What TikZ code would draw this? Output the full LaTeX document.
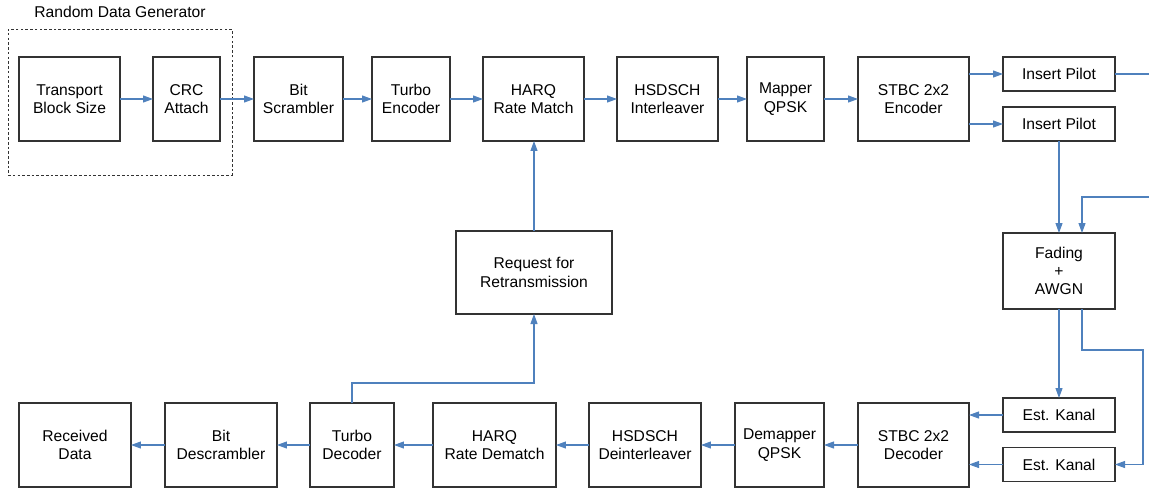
\documentclass[tikz,border=0pt]{standalone}
\usepackage{fontspec}
\setmainfont{Liberation Sans}
\usetikzlibrary{arrows.meta}
\definecolor{linkblue}{HTML}{4F81BD}
\tikzset{
  blok/.style={draw=black!80, line width=0.6pt, align=center, inner sep=0pt, outer sep=0pt,
    font=\fontsize{8.9}{10.4}\selectfont},
  toprow/.style={blok, minimum height=1.68cm},
  pilot/.style={blok, minimum width=2.24cm, minimum height=0.68cm},
  arr/.style={draw=linkblue, line width=0.6pt, -{Triangle[length=0.2cm, width=0.14cm]}},
  conn/.style={draw=linkblue, line width=0.6pt},
  gen/.style={draw=black!80, line width=0.5pt, dash pattern=on 1.5pt off 1.2pt, inner sep=0pt}
}
\begin{document}
\begin{tikzpicture}[x=0.02cm, y=-0.02cm]
  \useasboundingbox (0,0) rectangle (1149,488);

  % generator group
  \node[gen, minimum width=4.48cm, minimum height=2.92cm] (rdg) at (120,102) {};
  \node[font=\fontsize{8.9}{10.4}\selectfont] (rdglbl) at (120,12) {Random Data Generator};

  % transmitter chain
  \node[toprow, minimum width=2.02cm] (tbs) at (69.5,99) {Transport\\Block Size};
  \node[toprow, minimum width=1.34cm] (crc) at (186.5,99) {CRC\\Attach};
  \node[toprow, minimum width=1.78cm] (bsc) at (298.5,99) {Bit\\Scrambler};
  \node[toprow, minimum width=1.56cm] (tenc) at (411,99) {Turbo\\Encoder};
  \node[toprow, minimum width=2.02cm] (hrm) at (533.5,99) {HARQ\\Rate Match};
  \node[toprow, minimum width=2.02cm] (hint) at (667.5,99) {HSDSCH\\Interleaver};
  \node[toprow, minimum width=1.54cm] (map) at (785.5,99) {Mapper\\QPSK};
  \node[toprow, minimum width=2.22cm] (stenc) at (913.5,99) {STBC 2x2\\Encoder};
  \node[pilot] (ip1) at (1059,74) {Insert Pilot};
  \node[pilot] (ip2) at (1059,124) {Insert Pilot};

  % channel
  \node[blok, minimum width=2.24cm, minimum height=1.52cm] (fad) at (1059,271) {Fading\\+\\AWGN};
  \node[pilot] (ek1) at (1059,415) {Est. Kanal};
  \node[pilot] (ek2) at (1059,464.5) {Est. Kanal};

  % feedback
  \node[blok, minimum width=3.12cm, minimum height=1.66cm] (req) at (534,272.5) {Request for\\Retransmission};

  % receiver chain
  \node[toprow, minimum width=2.22cm] (stdec) at (913.5,445) {STBC 2x2\\Decoder};
  \node[toprow, minimum width=1.78cm] (dmap) at (779.5,445) {Demapper\\QPSK};
  \node[toprow, minimum width=2.24cm] (hdint) at (645,445) {HSDSCH\\Deinterleaver};
  \node[toprow, minimum width=2.46cm] (hrd) at (494.5,445) {HARQ\\Rate Dematch};
  \node[toprow, minimum width=1.68cm] (tdec) at (352,445) {Turbo\\Decoder};
  \node[toprow, minimum width=2.24cm] (bds) at (221,445) {Bit\\Descrambler};
  \node[toprow, minimum width=2.24cm] (rd) at (75,445) {Received\\Data};

  \coordinate (out1) at (1149,74);
  \coordinate (in2) at (1149,197);
  \coordinate (fr) at (1082,0);
  \coordinate (rt) at (1143,350);

  % links
  \draw[arr] (tbs) -- (crc);
  \draw[arr] (crc) -- (bsc);
  \draw[arr] (bsc) -- (tenc);
  \draw[arr] (tenc) -- (hrm);
  \draw[arr] (hrm) -- (hint);
  \draw[arr] (hint) -- (map);
  \draw[arr] (map) -- (stenc);
  \draw[arr] (stenc.east |- ip1.west) -- (ip1.west);
  \draw[arr] (stenc.east |- ip2.west) -- (ip2.west);
  \draw[conn] (ip1.east) -- (out1);
  \draw[arr] (ip2.south) -- (fad.north);
  \draw[arr] (in2) -| (fad.north -| fr);
  \draw[arr] (fad.south) -- (ek1.north);
  \draw[arr] (fad.south -| fr) |- (rt) |- (ek2.east);
  \draw[arr] (ek1.west) -- (stdec.east |- ek1.west);
  \draw[arr] (ek2.west) -- (stdec.east |- ek2.west);
  \draw[arr] (stdec) -- (dmap);
  \draw[arr] (dmap) -- (hdint);
  \draw[arr] (hdint) -- (hrd);
  \draw[arr] (hrd) -- (tdec);
  \draw[arr] (tdec) -- (bds);
  \draw[arr] (bds) -- (rd);
  \draw[arr] (tdec.north) -- ++(0,-20) -| (req.south);
  \draw[arr] (req.north) -- (req.north |- hrm.south);
\end{tikzpicture}
\end{document}
